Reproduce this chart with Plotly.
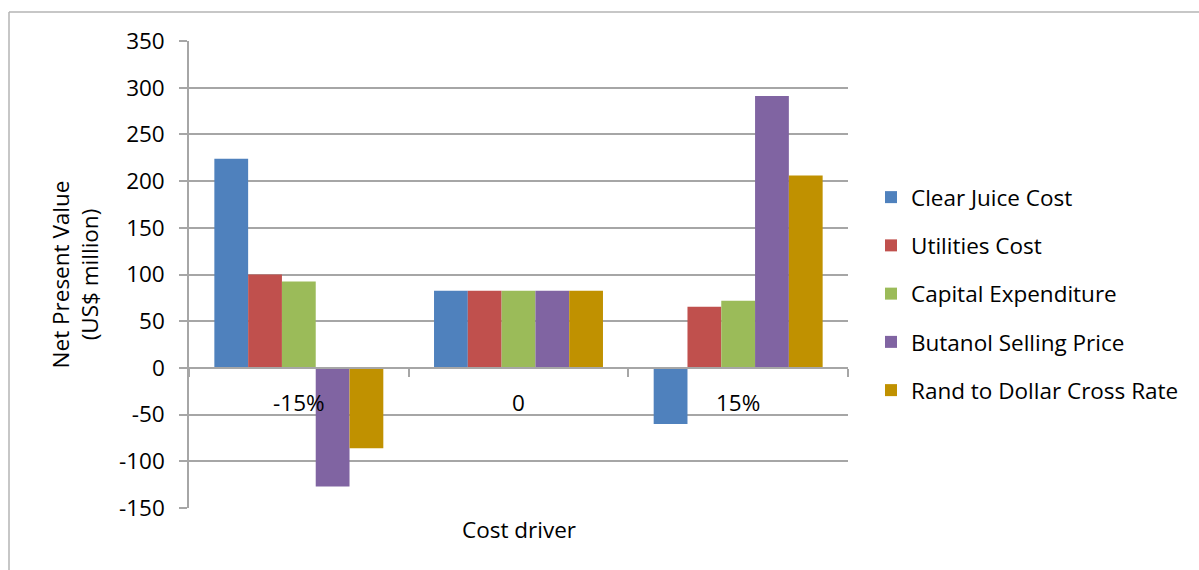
import plotly.graph_objects as go

# Sensitivity of NPV to each cost driver (US$ million)
categories = ["-15%", "0", "15%"]
series_names = [
    "Clear Juice Cost",
    "Utilities Cost",
    "Capital Expenditure",
    "Butanol Selling Price",
    "Rand to Dollar Cross Rate",
]
clear_juice = [224, 82.5, -60]
utilities = [100, 82.5, 65.5]
capex = [92.5, 82.5, 72]
butanol_price = [-127, 82.5, 291]
rand_dollar = [-86, 82.5, 206]
y_ticks = [-150, -100, -50, 0, 50, 100, 150, 200, 250, 300, 350]
y_tick_labels = [str(v) for v in y_ticks]

colors = ["#4F81BD", "#C0504D", "#9BBB59", "#8064A2", "#C09100"]
series_values = [clear_juice, utilities, capex, butanol_price, rand_dollar]

FONT = "Open Sans"
FS = 22.5
GRID = "#A6A6A6"

fig = go.Figure()
for i, (name, vals, col) in enumerate(zip(series_names, series_values, colors)):
    fig.add_trace(go.Bar(
        x=categories, y=vals, name=name,
        marker=dict(color=col, line=dict(width=0)),
        legendgroup=f"g{i}",
    ))

W, H = 1199, 570
L, R, T, B = 189, 351, 41, 62
pw, ph = W - L - R, H - T - B

fig.update_layout(
    width=W, height=H,
    margin=dict(l=L, r=R, t=T, b=B, autoexpand=False),
    paper_bgcolor="white", plot_bgcolor="white",
    font=dict(family=FONT, size=FS, color="#000000"),
    barmode="group", bargap=0.2308, bargroupgap=0,
    showlegend=True,
    legend=dict(
        x=(871 - L) / pw, xanchor="left",
        y=(H - B - 294) / ph, yanchor="middle",
        traceorder="grouped", tracegroupgap=16,
        font=dict(family=FONT, size=FS, color="#000000"),
        bgcolor="rgba(0,0,0,0)", borderwidth=0,
    ),
    xaxis=dict(
        type="category",
        anchor="free", position=150 / 500,
        showline=True, linecolor=GRID, linewidth=1.5,
        ticks="outside", ticklen=8, tickcolor=GRID, tickwidth=1.5,
        tickson="boundaries",
        showgrid=False, zeroline=False,
        ticklabelstandoff=15,
        tickfont=dict(family=FONT, size=FS),
    ),
    yaxis=dict(
        range=[-150, 350], tickvals=y_ticks, ticktext=y_tick_labels,
        showline=True, linecolor=GRID, linewidth=1.5,
        ticks="outside", ticklen=8, tickcolor=GRID, tickwidth=1.5,
        showgrid=True, gridcolor=GRID, gridwidth=1.5,
        zeroline=False,
        ticklabelstandoff=10,
        tickfont=dict(family=FONT, size=FS),
        title=dict(text="Net Present Value<br>(US$ million)",
                   font=dict(family=FONT, size=FS), standoff=14),
    ),
    annotations=[dict(
        text="Cost driver", xref="paper", yref="paper",
        x=0.5, y=(H - B - 529) / ph, xanchor="center", yanchor="middle",
        showarrow=False, font=dict(family=FONT, size=FS),
    )],
    shapes=[
        # chart area frame (top and left edges)
        dict(type="line", xref="paper", yref="paper", layer="below",
             x0=(9 - L) / pw, x1=(W + 5 - L) / pw,
             y0=(H - B - 12) / ph, y1=(H - B - 12) / ph,
             line=dict(color="#B4B4B4", width=1.5)),
        dict(type="line", xref="paper", yref="paper", layer="below",
             x0=(9 - L) / pw, x1=(9 - L) / pw,
             y0=(H - B - 12) / ph, y1=(H - B - H - 5) / ph,
             line=dict(color="#B4B4B4", width=1.5)),
    ],
)

fig.write_html("out.html")
